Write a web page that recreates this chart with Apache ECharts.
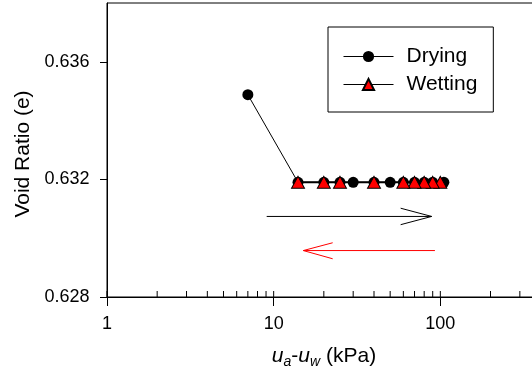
<!DOCTYPE html>
<html><head><meta charset="utf-8">
<script src="https://cdn.jsdelivr.net/npm/echarts@6/dist/echarts.min.js"></script>
<style>html,body{margin:0;padding:0;background:#fff}#c{width:532px;height:372px}</style>
</head><body><div id="c"></div>
<script>
// ---- data ----
const dryingSuction = [7, 14, 20, 25, 30, 40, 50, 60, 70, 80, 90, 105];
const dryingVoid    = [0.63488, 0.6319, 0.6319, 0.6319, 0.6319, 0.6319, 0.6319, 0.6319, 0.6319, 0.6319, 0.6319, 0.6319];
const wettingSuction = [100, 90, 80, 70, 60, 40, 25, 20, 14];
const wettingVoid    = [0.6319, 0.6319, 0.6319, 0.6319, 0.6319, 0.6319, 0.6319, 0.6319, 0.6319];
const yTickValues = [0.628, 0.632, 0.636];
const xMajorTicks = [1, 10, 100, 1000];
const xMinorTicks = [2, 3, 4, 5, 6, 7, 8, 9, 20, 30, 40, 50, 60, 70, 80, 90, 200, 300, 400, 500, 600, 700, 800, 900];
const blackArrowShaft = [[9.08, 0.63074], [88.7, 0.63074]];
const blackArrowHead  = [[57.8, 0.63102], [88.7, 0.63074], [57.8, 0.63046]];
const redArrowShaft   = [[92.8, 0.62958], [15.06, 0.62958]];
const redArrowHead    = [[22.6, 0.629845], [15.06, 0.62958], [22.6, 0.6293]];

const FONT = 'Liberation Sans, Arial, sans-serif';
const chart = echarts.init(document.getElementById('c'), null, {renderer: 'canvas'});

const zip = (xs, ys) => xs.map((x, i) => [x, ys[i]]);
const tickItem = (len) => function (params, api) {
  const p = api.coord([api.value(0), 0.628]);
  return {type: 'line', shape: {x1: p[0], y1: p[1], x2: p[0], y2: p[1] - len},
          style: {stroke: '#000', lineWidth: 1}};
};

const option = {
  animation: false,
  backgroundColor: '#fff',
  grid: {left: 107, right: -75, top: 3, bottom: 75, containLabel: false, outerBoundsMode: 'none',
         show: true, borderColor: '#000', borderWidth: 1, backgroundColor: 'transparent'},
  legend: {
    orient: 'vertical', left: 328, top: 27,
    padding: [19, 16, 17, 15],
    itemWidth: 50, itemHeight: 14, itemGap: 7,
    borderColor: '#000', borderWidth: 1,
    data: ['Drying', 'Wetting'],
    lineStyle: {width: 1, color: '#000'},
    textStyle: {fontFamily: FONT, fontSize: 21, color: '#000', padding: [0, 0, 0, 8]}
  },
  xAxis: {
    type: 'log', logBase: 10, min: 1, max: 1000,
    axisLine: {show: true, lineStyle: {color: '#000', width: 1}},
    axisTick: {show: true, inside: false, length: 9, lineStyle: {color: '#000'}},
    axisLabel: {fontFamily: FONT, fontSize: 18, color: '#000', margin: 18, formatter: v => String(v)},
    splitLine: {show: false},
    name: '{i|u}{s|a}{n|-}{i|u}{s|w}{n| (kPa)}',
    nameLocation: 'middle', nameGap: 46,
    nameTextStyle: {
      padding: [0, 66, 0, 0],
      rich: {
        i: {fontFamily: FONT, fontStyle: 'italic', fontSize: 21, lineHeight: 26, color: '#000'},
        n: {fontFamily: FONT, fontSize: 21, lineHeight: 26, color: '#000'},
        s: {fontFamily: FONT, fontStyle: 'italic', fontSize: 14, lineHeight: 14, verticalAlign: 'bottom', color: '#000'}
      }
    }
  },
  yAxis: {
    type: 'value', min: 0.628, max: 0.638, interval: 0.004,
    axisLine: {show: true, lineStyle: {color: '#000', width: 1}},
    axisTick: {show: true, inside: false, length: 7, lineStyle: {color: '#000'}, customValues: yTickValues},
    axisLabel: {fontFamily: FONT, fontSize: 18, color: '#000', margin: 17.5, customValues: yTickValues,
      formatter: v => v.toFixed(3)},
    splitLine: {show: false},
    name: 'Void Ratio (e)', nameLocation: 'middle', nameGap: 72,
    nameTextStyle: {fontFamily: FONT, fontSize: 21, color: '#000', padding: [0, 8, 0, 0]}
  },
  series: [
    {type: 'custom', silent: true, clip: false, renderItem: tickItem(6), data: xMinorTicks.map(v => [v, 0.628]), z: 5},
    {type: 'custom', silent: true, clip: false, renderItem: tickItem(6), data: xMajorTicks.map(v => [v, 0.628]), z: 5},
    {type: 'line', silent: true, symbol: 'none', data: blackArrowShaft, lineStyle: {color: '#000', width: 1}},
    {type: 'line', silent: true, symbol: 'none', data: blackArrowHead, lineStyle: {color: '#000', width: 1}},
    {type: 'line', silent: true, symbol: 'none', data: redArrowShaft, lineStyle: {color: '#ff0000', width: 1}},
    {type: 'line', silent: true, symbol: 'none', data: redArrowHead, lineStyle: {color: '#ff0000', width: 1}},
    {
      name: 'Drying', type: 'line', data: zip(dryingSuction, dryingVoid),
      symbol: 'circle', symbolSize: 11, showAllSymbol: true,
      lineStyle: {color: '#000', width: 1},
      itemStyle: {color: '#000', borderColor: '#000', borderWidth: 0}
    },
    {
      name: 'Wetting', type: 'line', data: zip(wettingSuction, wettingVoid),
      symbol: 'triangle', symbolSize: [13, 12], showAllSymbol: true,
      lineStyle: {color: '#000', width: 2},
      itemStyle: {color: '#ff0000', borderColor: '#000', borderWidth: 1}
    }
  ]
};
chart.setOption(option);
</script></body></html>
